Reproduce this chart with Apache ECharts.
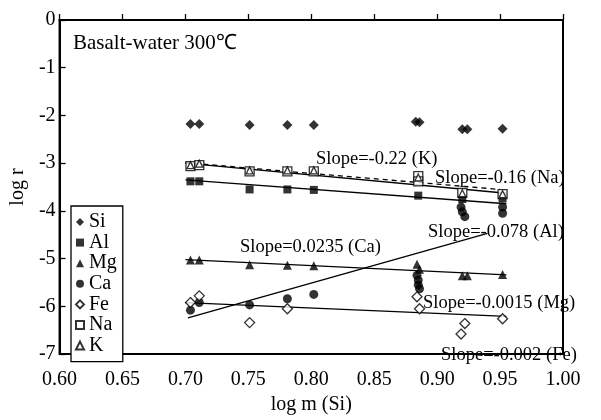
<!DOCTYPE html>
<html>
<head>
<meta charset="utf-8">
<script src="https://cdn.jsdelivr.net/npm/echarts@6/dist/echarts.min.js"></script>
<style>
  html, body { margin: 0; padding: 0; background: #fff; }
  #main { width: 601px; height: 420px; }
</style>
</head>
<body>
<div id="main"></div>
<script>
// measured points, log m (Si) vs log r
var siX = [0.704, 0.711, 0.751, 0.781, 0.802, 0.883, 0.886, 0.920, 0.924, 0.952];
var siY = [-2.18, -2.18, -2.20, -2.20, -2.20, -2.13, -2.14, -2.29, -2.29, -2.28];

var alX = [0.704, 0.711, 0.751, 0.781, 0.802, 0.885, 0.920, 0.952];
var alY = [-3.38, -3.38, -3.55, -3.55, -3.56, -3.68, -3.75, -3.74];

var mgX = [0.704, 0.711, 0.751, 0.781, 0.802, 0.884, 0.886, 0.920, 0.924, 0.952];
var mgY = [-5.03, -5.03, -5.13, -5.14, -5.15, -5.12, -5.22, -5.36, -5.36, -5.33];

var caX = [0.704, 0.711, 0.751, 0.781, 0.802, 0.884, 0.885, 0.885, 0.886, 0.919, 0.920, 0.922, 0.952, 0.952];
var caY = [-6.08, -5.92, -5.97, -5.84, -5.75, -5.35, -5.45, -5.55, -5.63, -3.92, -4.02, -4.12, -3.92, -4.05];

var feX = [0.704, 0.711, 0.751, 0.781, 0.884, 0.886, 0.919, 0.922, 0.952];
var feY = [-5.92, -5.78, -6.34, -6.05, -5.80, -6.05, -6.58, -6.36, -6.26];

var naX = [0.704, 0.711, 0.751, 0.781, 0.802, 0.885, 0.885, 0.920, 0.952];
var naY = [-3.06, -3.04, -3.17, -3.17, -3.17, -3.27, -3.38, -3.62, -3.65];

var kX = [0.704, 0.711, 0.751, 0.781, 0.802, 0.885, 0.920, 0.952];
var kY = [-3.04, -3.01, -3.15, -3.15, -3.15, -3.30, -3.63, -3.65];

// fitted lines (two end points each)
var kLineX = [0.70, 0.955],  kLineY = [-3.00, -3.63];
var naLineX = [0.70, 0.950], naLineY = [-2.99, -3.55];
var alLineX = [0.70, 0.955], alLineY = [-3.35, -3.85];
var mgLineX = [0.70, 0.955], mgLineY = [-5.02, -5.34];
var caLineX = [0.702, 0.940], caLineY = [-6.24, -4.47];
var feLineX = [0.70, 0.955], feLineY = [-5.92, -6.21];

var elements = ['Si', 'Al', 'Mg', 'Ca', 'Fe', 'Na', 'K'];

var FONT = 'Liberation Serif';

function pts(xs, ys) {
  var out = [];
  for (var i = 0; i < xs.length; i++) out.push([xs[i], ys[i]]);
  return out;
}

function dots(name, xs, ys, symbol, size, open) {
  return {
    name: name,
    type: 'scatter',
    data: pts(xs, ys),
    symbol: symbol,
    symbolSize: size,
    z: 5,
    itemStyle: open
      ? { color: '#fff', borderColor: '#000', borderWidth: 1.3 }
      : { color: '#000', borderColor: '#000', borderWidth: 0 }
  };
}

function fit(xs, ys, dashed) {
  return {
    type: 'line',
    data: pts(xs, ys),
    symbol: 'none',
    silent: true,
    z: 2,
    lineStyle: { color: '#000', width: 1.3, type: dashed ? [5, 4] : 'solid' }
  };
}

function note(text, x, y) {
  return {
    type: 'text',
    left: x,
    top: y - 11,
    style: { text: text, fill: '#000', font: '18.5px "' + FONT + '"' }
  };
}

var chart = echarts.init(document.getElementById('main'));

var option = {
  animation: false,
  backgroundColor: '#fff',
  grid: {
    left: 58, right: 38, top: 20, bottom: 57,
    show: true, borderColor: '#000', borderWidth: 2
  },
  xAxis: {
    type: 'value',
    min: 0.6, max: 1.0, interval: 0.05,
    name: 'log m (Si)',
    nameLocation: 'middle',
    nameGap: 35,
    nameTextStyle: { fontFamily: FONT, fontSize: 20, color: '#000' },
    axisLine: { lineStyle: { color: '#000', width: 2 } },
    axisTick: { inside: true, length: 6, lineStyle: { color: '#000', width: 1.3 } },
    axisLabel: {
      margin: 16, color: '#000', fontFamily: FONT, fontSize: 20,
      formatter: function (v) { return v.toFixed(2); }
    },
    splitLine: { show: false }
  },
  yAxis: {
    type: 'value',
    min: -7, max: 0, interval: 1,
    name: 'log r',
    nameLocation: 'middle',
    nameRotate: 90,
    nameGap: 22,
    nameTextStyle: { fontFamily: FONT, fontSize: 20, color: '#000' },
    axisLine: { lineStyle: { color: '#000', width: 2 } },
    axisTick: { inside: true, length: 6, lineStyle: { color: '#000', width: 1.3 } },
    axisLabel: { margin: 4, color: '#000', fontFamily: FONT, fontSize: 20 },
    splitLine: { show: false }
  },
  legend: {
    data: elements,
    orient: 'vertical',
    left: 71, top: 206,
    itemWidth: 8, itemHeight: 8,
    itemGap: 0.6,
    padding: [6, 6, 6, 4],
    borderColor: '#000', borderWidth: 1.3,
    backgroundColor: '#fff',
    selectedMode: false,
    textStyle: { fontFamily: FONT, fontSize: 20, lineHeight: 20, color: '#000' }
  },
  graphic: [
    { type: 'text', left: 73, top: 33, style: { text: 'Basalt-water 300℃', fill: '#000', font: '21px "' + FONT + '"' } },
    note('Slope=-0.22 (K)', 316, 161),
    note('Slope=-0.16 (Na)', 435, 180),
    note('Slope=0.0235 (Ca)', 240, 249),
    note('Slope=-0.078 (Al)', 428, 234),
    note('Slope=-0.0015 (Mg)', 423, 305),
    note('Slope=-0.002 (Fe)', 441, 357)
  ],
  series: [
    fit(kLineX, kLineY, false),
    fit(naLineX, naLineY, true),
    fit(alLineX, alLineY, false),
    fit(mgLineX, mgLineY, false),
    fit(caLineX, caLineY, false),
    fit(feLineX, feLineY, false),
    dots('Si', siX, siY, 'diamond', 10, false),
    dots('Al', alX, alY, 'rect', 8, false),
    dots('Mg', mgX, mgY, 'triangle', 9, false),
    dots('Ca', caX, caY, 'circle', 9, false),
    dots('Fe', feX, feY, 'diamond', 10, true),
    dots('Na', naX, naY, 'rect', 9, true),
    dots('K', kX, kY, 'triangle', 7, true)
  ]
};

chart.setOption(option);
</script>
</body>
</html>
